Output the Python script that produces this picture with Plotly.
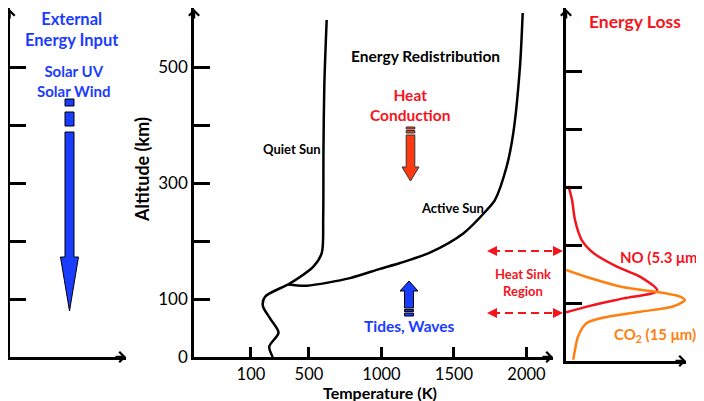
import plotly.graph_objects as go

# temperature profiles (middle panel)
quiet_temp = [250, 226, 290, 236, 182, 197, 369, 530, 588, 598, 600, 606, 622]
quiet_alt = [0, 18, 42, 65, 88, 104, 127, 156, 179, 240, 360, 470, 581]
active_temp = [357, 484, 783, 990, 1128, 1334, 1564, 1725, 1783, 1863, 1909, 1955, 1974]
active_alt = [125, 123, 136, 152, 162, 180, 213, 253, 271, 328, 386, 500, 593]
temp_ticks = [100, 500, 1000, 1500, 2000]
alt_ticks = [0, 100, 200, 300, 400, 500]
alt_labels = ["0", "100", "", "300", "", "500"]

# cooling profiles (right panel), relative units
no_rate = [0.02, 0.05, 0.075, 0.13, 0.23, 0.42, 0.62, 0.76, 0.48, 0.2, 0.0]
no_alt = [302, 278, 243, 209, 186, 163, 145, 121, 108, 95, 84]
co2_rate = [0.0, 0.2, 0.48, 0.76, 0.95, 0.99, 0.89, 0.62, 0.34, 0.17, 0.10, 0.075, 0.06]
co2_alt = [157, 143, 127, 119, 111, 105, 94, 85, 76, 65, 42, 19, 2]

W, H = 704, 401
# the page puts the figure 8px in from the corner; plot area comes out ~391px tall
OX, OY, PH = 8, 8, 391
BLUE = "#1a3cff"
RED = "#f5141e"
ORANGE = "#ff7f0f"
FONT = "Lato"


def px(x):
    return max(0.0, (x - OX) / W)


def py(y):
    return min(1.0, 1 - (y - OY) / PH)


def pt(x, y):
    return f"{px(x):.5f},{py(y):.5f}"


def block_arrow(cx, y_tail, y_tip, shaft_hw, head_hw, head_len):
    d = 1 if y_tip > y_tail else -1
    yb = y_tip - d * head_len
    pts = [(cx - shaft_hw, y_tail), (cx - shaft_hw, yb), (cx - head_hw, yb), (cx, y_tip),
           (cx + head_hw, yb), (cx + shaft_hw, yb), (cx + shaft_hw, y_tail)]
    return "M" + " L".join(pt(x, y) for x, y in pts) + " Z"


fig = go.Figure()

# left panel (empty axes)
fig.add_trace(go.Scatter(x=[], y=[], xaxis="x", yaxis="y", showlegend=False, hoverinfo="skip"))

# middle panel
fig.add_trace(go.Scatter(x=quiet_temp, y=quiet_alt, mode="lines", name="Quiet Sun",
                         line=dict(color="black", width=2.5, shape="spline", smoothing=0.8),
                         xaxis="x2", yaxis="y2"))
fig.add_trace(go.Scatter(x=active_temp, y=active_alt, mode="lines", name="Active Sun",
                         line=dict(color="black", width=2.5, shape="spline", smoothing=0.8),
                         xaxis="x2", yaxis="y2"))

# right panel
fig.add_trace(go.Scatter(x=no_rate, y=no_alt, mode="lines", name="NO",
                         line=dict(color=RED, width=2.5, shape="spline", smoothing=0.8),
                         xaxis="x3", yaxis="y3"))
fig.add_trace(go.Scatter(x=co2_rate, y=co2_alt, mode="lines", name="CO2",
                         line=dict(color=ORANGE, width=2.5, shape="spline", smoothing=0.8),
                         xaxis="x3", yaxis="y3"))

axis_common = dict(showline=True, linewidth=2.5, linecolor="black", showgrid=False,
                   zeroline=False, tickcolor="black", tickwidth=2.5, fixedrange=True)

# screen px per km is 0.58 in every panel
top_mid = (357 - OY) / 0.58
top_right = (361 - OY) / 0.58

fig.update_layout(
    width=W, height=H,
    margin=dict(l=0, r=0, t=0, b=0),
    paper_bgcolor="white", plot_bgcolor="white",
    showlegend=False,
    font=dict(family=FONT, color="black"),
    xaxis=dict(domain=[px(9.5), px(126)], range=[0, 1], anchor="y", showticklabels=False, **axis_common),
    yaxis=dict(domain=[py(357), 1], range=[0, top_mid], anchor="x", ticks="inside", ticklen=17,
               tickvals=alt_ticks[1:], showticklabels=False, **axis_common),
    xaxis2=dict(domain=[px(194), px(553)], range=[-293, 2183], anchor="y2", ticks="inside", ticklen=10,
                tickvals=temp_ticks, tickfont=dict(size=16.5), **axis_common),
    yaxis2=dict(domain=[py(357), 1], range=[0, top_mid], anchor="x2", ticks="inside", ticklen=16,
                tickvals=alt_ticks, ticktext=alt_labels, tickfont=dict(size=17), **axis_common),
    xaxis3=dict(domain=[px(566), px(686)], range=[0, 1], anchor="y3", showticklabels=False, **axis_common),
    yaxis3=dict(domain=[py(361), 1], range=[0, top_right], anchor="x3", ticks="inside", ticklen=16,
                tickvals=alt_ticks[1:], showticklabels=False, **axis_common),
)

annotations = []

# arrowheads on the axis ends
for x, y, ax, ay in [(9.5, OY, 0, 12), (194, OY, 0, 12), (566, OY, 0, 12),
                     (126, 357, -12, 0), (553, 357, -12, 0), (686, 361, -12, 0)]:
    annotations.append(dict(x=px(x), y=py(y), xref="paper", yref="paper", ax=ax, ay=ay,
                            text="", showarrow=True, arrowhead=4, arrowsize=0.8,
                            arrowwidth=2.5, arrowcolor="black", standoff=0))


def label(text, x, y, size, color="black", bold=True, angle=0, anchor="center"):
    annotations.append(dict(x=px(x), y=py(y), xref="paper", yref="paper", showarrow=False,
                            text=f"<b>{text}</b>" if bold else text, textangle=angle,
                            font=dict(size=size, color=color, family=FONT),
                            xanchor=anchor, yanchor="middle", align="center", borderpad=0))


label("External<br>Energy Input", 72, 29, 16.5, BLUE)
label("Solar UV<br>Solar Wind", 73, 81, 15, BLUE)
label("Energy Redistribution", 425, 56, 15.5)
label("Heat<br>Conduction", 410, 105, 15.5, RED)
label("Quiet Sun", 292, 149, 13)
label("Active Sun", 452, 208, 13)
label("Tides, Waves", 409, 326, 15.5, BLUE)
label("Heat Sink<br>Region", 523, 282, 13, RED)
label("NO (5.3 μm)", 703, 257, 15, RED, anchor="right")
label("CO<sub>2</sub> (15 μm)", 697, 335, 15, ORANGE, anchor="right")
label("Energy Loss", 635, 21, 17.5, RED)
label("Altitude (km)", 142, 170, 18, angle=-90)
label("Temperature (K)", 380, 392, 16)

# dashed heat-sink arrows
shapes = []
for y in [251, 313]:
    shapes.append(dict(type="line", xref="paper", yref="paper", x0=px(492), x1=px(558),
                       y0=py(y), y1=py(y), line=dict(color=RED, width=2, dash="8px,5px")))
    for x, ax in [(487, 8), (563, -8)]:
        annotations.append(dict(x=px(x), y=py(y), xref="paper", yref="paper", ax=ax, ay=0,
                                text="", showarrow=True, arrowhead=2, arrowsize=1,
                                arrowwidth=2, arrowcolor=RED, standoff=0))

# block arrows
shapes.append(dict(type="path", xref="paper", yref="paper", fillcolor=BLUE,
                   line=dict(color="black", width=1),
                   path=block_arrow(69.5, 132, 311, 4.5, 9, 54)))
for y0, y1 in [(99, 106), (112, 126)]:
    shapes.append(dict(type="rect", xref="paper", yref="paper", x0=px(65), x1=px(74),
                       y0=py(y0), y1=py(y1), fillcolor=BLUE, line=dict(color="black", width=1)))

shapes.append(dict(type="path", xref="paper", yref="paper", fillcolor="#ff3a10",
                   line=dict(color="#333333", width=1),
                   path=block_arrow(410.5, 135, 181, 4.3, 8.5, 14)))
for y0, y1 in [(127, 129), (130.5, 133)]:
    shapes.append(dict(type="rect", xref="paper", yref="paper", x0=px(406.2), x1=px(414.8),
                       y0=py(y0), y1=py(y1), fillcolor="#ff3a10", line=dict(color="#333333", width=1)))

shapes.append(dict(type="path", xref="paper", yref="paper", fillcolor=BLUE,
                   line=dict(color="black", width=1),
                   path=block_arrow(409, 308, 281, 4.5, 9, 10)))
for y0, y1 in [(309.5, 311.5), (313, 316)]:
    shapes.append(dict(type="rect", xref="paper", yref="paper", x0=px(404.5), x1=px(413.5),
                       y0=py(y0), y1=py(y1), fillcolor=BLUE, line=dict(color="black", width=1)))

fig.update_layout(annotations=annotations, shapes=shapes)

fig.write_html("out.html")
